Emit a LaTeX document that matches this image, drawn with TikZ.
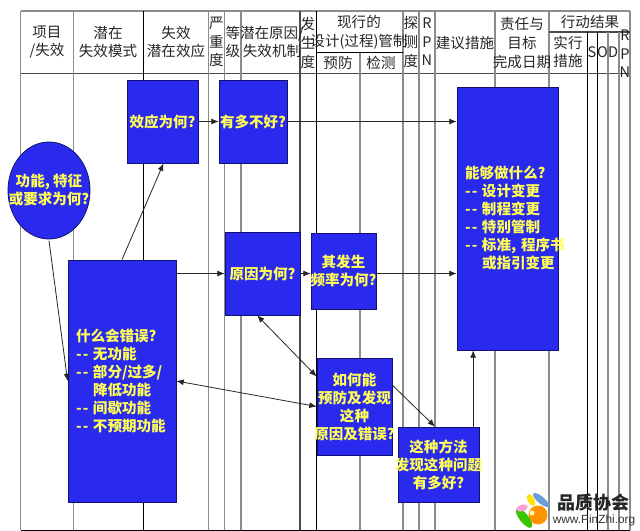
\documentclass[tikz,border=0pt]{standalone}
\usepackage{fontspec}
\setmainfont{Noto Sans CJK SC}
\newfontfamily\urlfont{Liberation Sans}
\usetikzlibrary{arrows.meta,shapes.geometric}
\definecolor{bluebox}{HTML}{2A2AEE}
\definecolor{edgeblue}{HTML}{12126E}
\definecolor{textyellow}{HTML}{FFFF55}
\definecolor{gridgrey}{HTML}{8C8C8C}
\definecolor{griddark}{HTML}{4A4A4A}
\newcommand{\cl}[1]{\makebox[0pt]{#1}}
\newcommand{\dd}{\makebox[12.75pt][l]{-\hspace{1pt}-}}
\newcommand{\lft}[1]{\makebox[0pt][l]{#1}}
\tikzset{
  x=0.75pt,y=-0.75pt,
  hdr/.style={inner sep=0pt,align=center,text=black!85,font=\fontsize{10.9}{14}\selectfont},
  bx/.style n args={2}{draw=edgeblue,fill=bluebox,line width=0.6pt,inner sep=0pt,
    minimum width=#1*0.75pt,minimum height=#2*0.75pt,align=center,text=textyellow,
    font=\fontsize{10.9}{13.5}\selectfont\bfseries},
  lst/.style={align=left,inner xsep=6pt,inner ysep=0pt,text width=#1*0.75pt-12pt},
  gl/.style={gridgrey,line width=0.85pt},
  gk/.style={griddark,line width=0.8pt},
  bl/.style={black,line width=0.65pt},
  con/.style={black!85,line width=0.6pt,-{Latex[length=5.5pt,width=4.5pt]}},
  dcon/.style={black!85,line width=0.6pt,{Latex[length=5.5pt,width=4.5pt]}-{Latex[length=5.5pt,width=4.5pt]}},
}
\begin{document}
\begin{tikzpicture}
\useasboundingbox (0,0) rectangle (640,531);
\fill[white] (0,0) rectangle (640,531);
% grid
\draw[gl] (20.5,11) -- (630,11);
\draw[gk] (20.5,73.5) -- (630,73.5);
\draw[bl] (20.5,530) -- (630,530);
\foreach \xv in {20.5,73.5,208.5,224.5,241,403,419,435,495,549,630}{\draw[gl] (\xv,11) -- (\xv,530);}
\draw[gk] (300,11) -- (300,530);
\draw[bl] (143.5,11) -- (143.5,530);
\draw[bl] (316,11) -- (316,530);
\draw[gl] (360,52) -- (360,530);
\draw[bl] (316,52) -- (403,52);
\draw[gk] (549,32) -- (630,32);
\draw[bl] (587,32) -- (587,530);
\draw[bl] (597.5,32) -- (597.5,530);
\draw[gl] (608,32) -- (608,530);
\draw[gl] (619,32) -- (619,530);
% header
\node[hdr] (h1) at (47,42) {项目\\/失效};
\node[hdr] (h2) at (108,42) {潜在\\失效模式};
\node[hdr] (h3) at (176,42) {失效\\潜在效应};
\node[hdr] (h4) at (216.5,42) {严\\重\\度};
\node[hdr] (h5) at (233,42) {等\\级};
\node[hdr] (h6) at (272,42) {潜在原因/\\失效机制};
\node[hdr] (h7) at (308,43) {发\\生\\度};
\node[hdr] (h8) at (359,32) {现行的\\设计(过程)管制};
\node[hdr] (h9) at (338,63) {预防};
\node[hdr] (h10) at (381,63) {检测};
\node[hdr] (h11) at (411,42) {探\\测\\度};
\node[hdr] (h12) at (427,42) {R\\P\\N};
\node[hdr] (h13) at (465,43) {建议措施};
\node[hdr] (h14) at (522,43) {责任与\\目标\\完成日期};
\node[hdr] (h15) at (590,22) {行动结果};
\node[hdr] (h16) at (568,52) {实行\\措施};
\node[hdr] (h17) at (592,52) {S};
\node[hdr] (h18) at (602.5,52) {O};
\node[hdr] (h19) at (613,52) {D};
\node[hdr] (h20) at (625,54) {R\\P\\N};
% logo
\fill[orange!85!yellow] (538,515) circle (9.5);
\fill[yellow!30] (538,515) ++(-6,-2) circle (2.5);
\fill[green!55!olive,rotate around={-52:(524,518)}] (524,518) ellipse (12 and 4.5);
\fill[yellow!85!orange,rotate around={-62:(531,500)}] (531,500) ellipse (6.5 and 3.2);
\fill[cyan!55!blue!60,rotate around={-40:(541,500)}] (541,500) ellipse (10 and 3.5);
\fill[magenta!35,rotate around={15:(522,508)}] (522,508) ellipse (6 and 3.3);
\node[inner sep=0pt,text=black!85,font=\fontsize{13.5}{14}\selectfont\bfseries] (logo1) at (593,503) {品质协会};
\node[inner sep=0pt,text=black!80,font=\urlfont\fontsize{8.9}{11}\selectfont] (logo2) at (594,520) {www.PinZhi.org};
% boxes
\node[bx={71}{83}] (effect) at (162.5,121.5) {\cl{效应为何?}};
\node[bx={68}{83}] (severe) at (253,121.5) {\cl{有多不好?}};
\node[ellipse,bx={82}{97}] (func) at (49,190.5) {\cl{功能, 特征}\\\cl{或要求为何?}};
\node[bx={108}{242},lst=108] (mode) at (122,381) {什么会错误?\\\dd\lft{无功能}\\\dd\lft{部分/过多/}\\\hspace*{12.75pt}\lft{降低功能}\\\dd\lft{间歇功能}\\\dd\lft{不预期功能}};
\node[bx={75}{83}] (cause) at (262.5,273.5) {\cl{原因为何?}};
\node[bx={65}{76}] (occ) at (343.5,271) {\cl{其发生}\\\cl{频率为何?}};
\node[bx={75}{97}] (prev) at (354.5,406.5) {\cl{如何能}\\\cl{预防及发现}\\\cl{这种}\\\cl{原因及错误?}};
\node[bx={81}{75}] (detect) at (438.5,464.5) {\cl{这种方法}\\\cl{发现这种问题}\\\cl{有多好?}};
\node[bx={101}{263},lst=101] (act) at (507.5,218.5) {能够做什么?\\\dd\lft{设计变更}\\\dd\lft{制程变更}\\\dd\lft{特别管制}\\\dd\lft{标准, 程序书}\\\hspace*{12.75pt}\lft{或指引变更}};
% connectors
\draw[con] (effect.east) -- (severe.west);
\draw[con] (severe.east) -- (severe.east -| act.west);
\draw[con] ([yshift=-1pt]func.south) -- ([yshift=0pt]mode.west);
\draw[con] (mode.north) -- ([xshift=0.75pt]effect.south);
\draw[con] (mode.north east |- cause.west) -- (cause.west);
\draw[con] (cause.east) -- (cause.east -| occ.west);
\draw[con] (cause.east -| occ.east) -- (cause.east -| act.west);
\draw[dcon] ([xshift=-4pt]cause.south) -- ([yshift=22.5pt]prev.west);
\draw[dcon] (mode.east) -- (prev.west);
\draw[con] ([yshift=16pt]prev.east) -- ([xshift=-2.6pt]detect.north);
\draw[con] ([xshift=26pt]detect.north) -- ([xshift=26pt]detect.north |- act.south);
\end{tikzpicture}
\end{document}
